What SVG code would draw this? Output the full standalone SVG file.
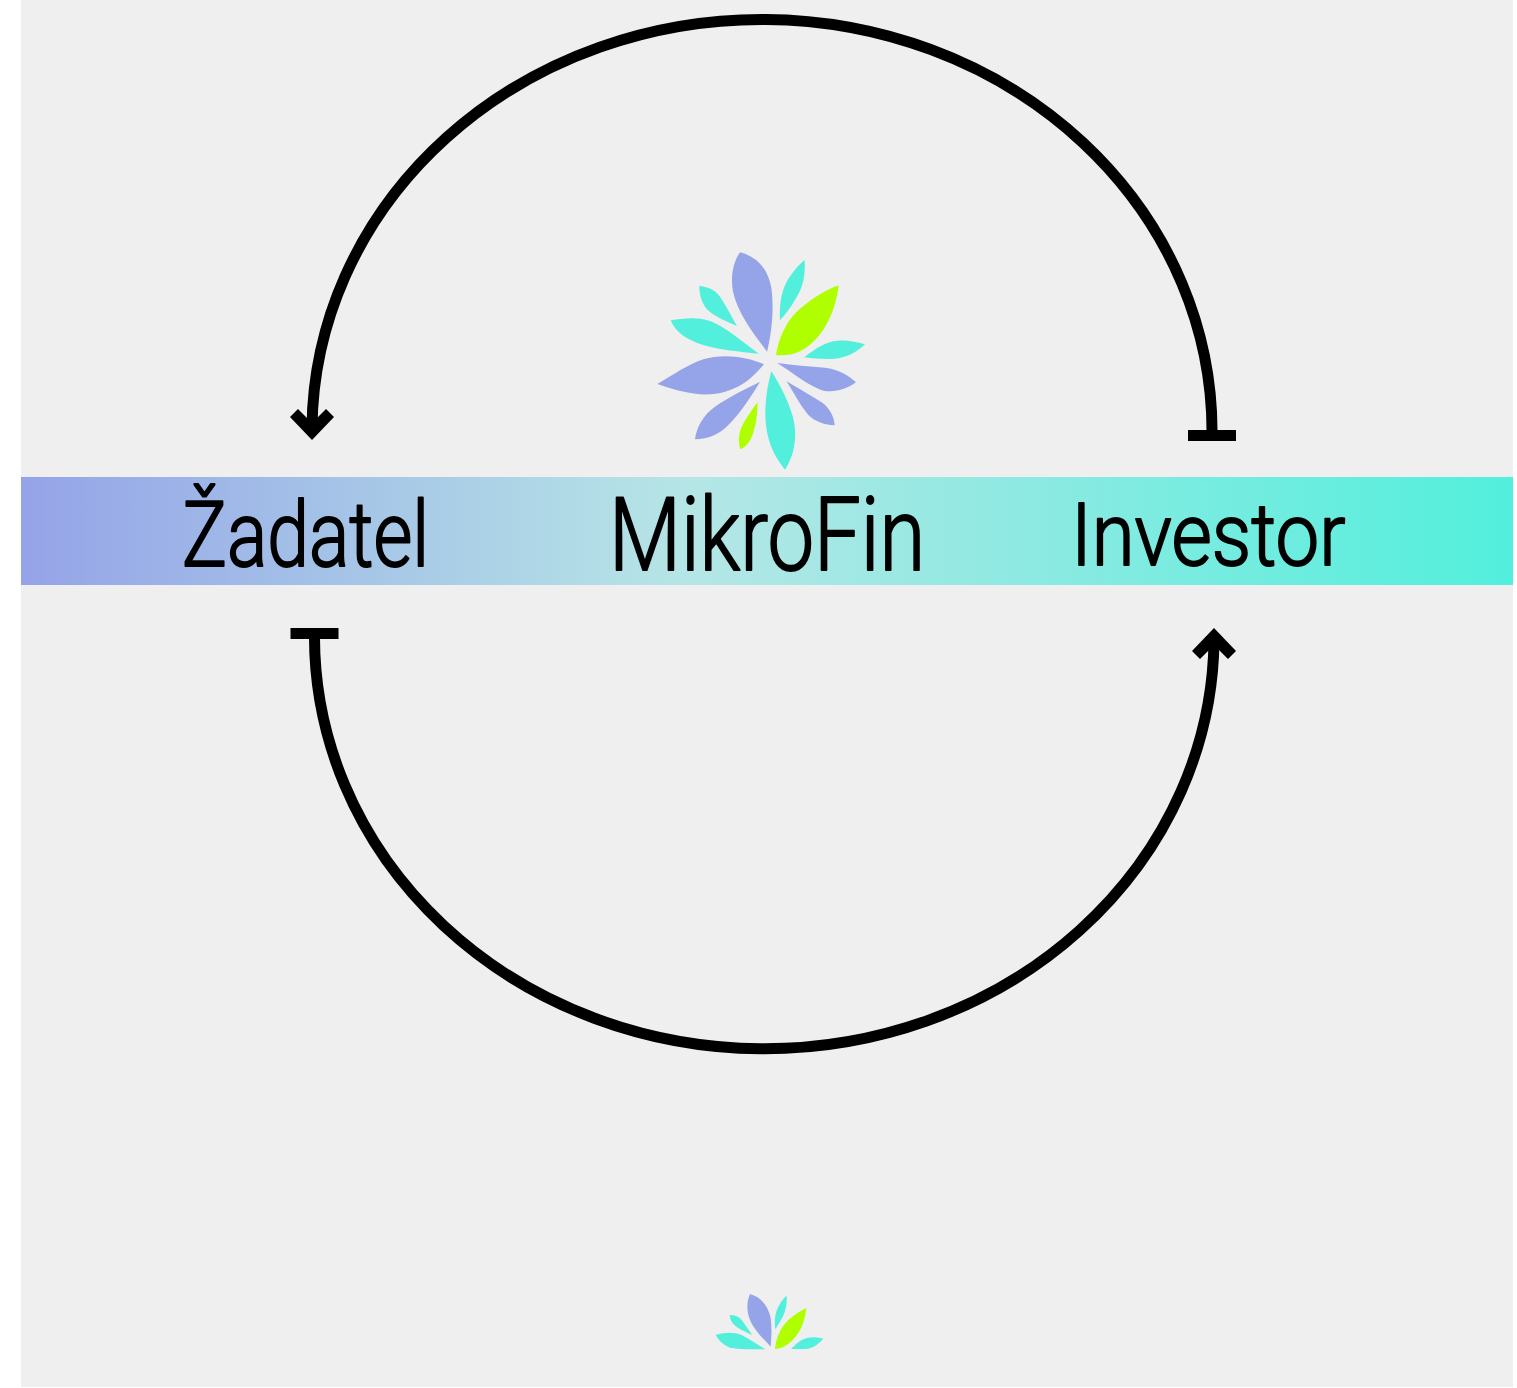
<svg xmlns="http://www.w3.org/2000/svg" width="1517" height="1388" viewBox="0 0 1517 1388">
<style>
.arc{fill:none;stroke:#000;stroke-width:11}
.lbl{font-family:Roboto,"Liberation Sans",sans-serif;font-weight:300;fill:#000;stroke:#000;stroke-width:2;stroke-linejoin:round}
.p{fill:#95a3e8}.t{fill:#52efdc}.l{fill:#afff00}
</style>
<defs>
<linearGradient id="band" x1="0" x2="1" y1="0" y2="0"><stop offset="0" stop-color="#95a3e8"/><stop offset=".4" stop-color="#b3dfe6"/><stop offset=".45" stop-color="#b5e6e6"/><stop offset="1" stop-color="#52efdc"/></linearGradient>
<marker id="arrowUp" markerUnits="userSpaceOnUse" markerWidth="60" markerHeight="60" refX="30" refY="30" orient="0" overflow="visible"><path d="M30 18L52 41L44 49L30 35L16 49L8 41Z"/></marker>
<marker id="arrowDown" markerUnits="userSpaceOnUse" markerWidth="60" markerHeight="60" refX="30" refY="30" orient="180" overflow="visible"><path d="M30 18L52 41L44 49L30 35L16 49L8 41Z"/></marker>
<marker id="teeTop" markerUnits="userSpaceOnUse" markerWidth="60" markerHeight="20" refX="30" refY="10" orient="0" overflow="visible"><rect x="6" y="5" width="48" height="11"/></marker>
</defs>
<rect width="1517" height="1388" fill="#fff"/>
<rect x="21" y="0" width="1492" height="1387" fill="#efefef"/>
<rect id="band-bar" x="21" y="477" width="1492" height="108" fill="url(#band)"/>
<g id="connectors">
<path class="arc" d="M1212 435A450 412 0 0 0 312 428" marker-start="url(#teeTop)" marker-end="url(#arrowDown)"/>
<path class="arc" d="M314.500 633A449.500 412 0 0 0 1214 640" marker-start="url(#teeTop)" marker-end="url(#arrowUp)"/>
</g>
<g id="node-zadatel"><text class="lbl" transform="translate(182 566) scale(.835 1)" font-size="90">Žadatel</text></g>
<g id="node-mikrofin"><text class="lbl" transform="translate(609 570) scale(.815 1)" font-size="102">MikroFin</text></g>
<g id="node-investor"><text class="lbl" transform="translate(1071 565) scale(.885 1)" font-size="88">Investor</text></g>
<g id="logo" transform="translate(640 240) scale(.33333)">
<path class="p" d="M300 37C350 50 385 85 395 150C402 210 395 280 381 335C345 285 295 225 279 155C270 105 282 62 300 37Z"/>
<path class="t" d="M494 60C496 110 490 140 465 180C450 205 435 225 420 241C418 200 422 160 440 125C455 100 475 75 494 60Z"/>
<path class="l" d="M596 136C590 190 570 250 530 295C495 335 455 350 408 345C415 300 435 250 470 215C510 180 555 150 596 136Z"/>
<path class="t" d="M675 313C650 335 625 352 585 356C555 358 525 356 493 352C515 335 545 312 580 304C615 298 645 305 675 313Z"/>
<path class="p" d="M412 369C460 376 510 380 555 383C595 388 625 405 648 427C620 448 585 458 550 452C510 440 460 400 412 369Z"/>
<path class="p" d="M439 423C470 442 510 465 545 487C570 505 582 530 584 556C555 555 525 545 505 525C480 495 460 455 439 423Z"/>
<path class="t" d="M394 394C420 435 450 490 462 545C472 600 460 650 435 689C405 650 380 610 376 530C375 480 383 435 394 394Z"/>
<path class="l" d="M353 487C352 515 350 545 342 570C335 600 320 620 301 628C295 605 295 585 305 560C318 535 335 510 353 487Z"/>
<path class="p" d="M360 425C315 448 265 472 225 500C190 525 170 560 165 598C205 597 235 585 265 555C300 520 330 475 360 425Z"/>
<path class="p" d="M52 432C100 405 140 375 190 358C250 340 320 350 372 373C340 410 310 440 255 455C190 475 120 455 52 432Z"/>
<path class="t" d="M92 241C130 235 170 230 210 243C255 260 300 300 356 341C300 335 240 330 190 315C140 300 105 275 92 241Z"/>
<path class="t" d="M178 138C200 140 225 148 240 170C260 200 272 225 291 258C260 245 225 230 203 210C185 190 178 165 178 138Z"/>
</g>
<g id="logo-small" transform="translate(700 1280) scale(.33333)">
<path class="p" d="M150 42C180 50 205 75 212 115C216 145 214 175 212 200C190 175 155 145 145 105C140 80 142 60 150 42Z"/>
<path class="t" d="M260 47C262 75 255 100 243 120L226 148C222 120 226 95 238 75C245 62 252 54 260 47Z"/>
<path class="l" d="M319 84C315 125 300 160 275 183C258 198 245 205 225 207C228 175 240 145 265 120C282 105 300 93 319 84Z"/>
<path class="t" d="M370 176C355 192 340 205 315 207L273 207C285 195 300 180 320 174C340 170 355 173 370 176Z"/>
<path class="t" d="M89 105C110 105 125 115 132 130L157 165C135 155 110 145 98 130C92 122 90 113 89 105Z"/>
<path class="t" d="M47 165C75 157 100 155 125 165C150 178 175 195 196 208C160 208 120 208 90 203C70 195 55 180 47 165Z"/>
</g>
</svg>
